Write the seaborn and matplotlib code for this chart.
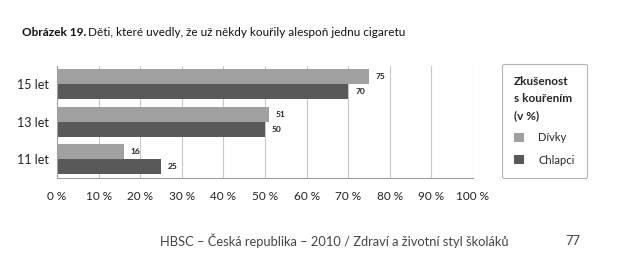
import matplotlib
matplotlib.use("Agg")
import matplotlib.pyplot as plt
import seaborn as sns
import pandas as pd

categories = ["15 let", "13 let", "11 let"]
divky = [75, 51, 16]
chlapci = [70, 50, 25]
series_names = ["Dívky", "Chlapci"]
colors = ["#a0a0a0", "#595959"]
xticks = [0, 10, 20, 30, 40, 50, 60, 70, 80, 90, 100]
xtick_labels = [f"{v} %" for v in xticks]

sns.set_style("white")
plt.rcParams["font.family"] = ["Lato", "DejaVu Sans"]

df = pd.DataFrame({
    "kat": categories * 2,
    "val": divky + chlapci,
    "pohlavi": [series_names[0]] * 3 + [series_names[1]] * 3,
})

fig = plt.figure(figsize=(6.2, 2.72), dpi=100)
ax = fig.add_axes([57/620, 1-178/272, (473-57)/620, (178-65.5)/272])

sns.barplot(data=df, y="kat", x="val", hue="pohlavi", order=categories,
            hue_order=series_names, palette=colors, orient="h", width=0.8,
            saturation=1, ax=ax, legend=False, linewidth=0)

ax.set_xlim(0, 100)
ax.set_xticks(xticks)
ax.set_xticklabels(xtick_labels, fontsize=8.5, color="#222222")
ax.tick_params(axis="y", labelsize=9, length=0, pad=6, labelcolor="#222222")
ax.tick_params(axis="x", length=0, pad=9)
ax.set_xlabel("")
ax.set_ylabel("")
ax.grid(axis="x", color="#c8c8c8", linewidth=0.8)
ax.set_axisbelow(True)
for s in ["top", "right"]:
    ax.spines[s].set_visible(False)
for s in ["left", "bottom"]:
    ax.spines[s].set_color("#a0a0a0")
    ax.spines[s].set_linewidth(0.8)

for cont in ax.containers:
    for bar in cont:
        w = bar.get_width()
        ax.annotate(f"{w:.0f}", (w, bar.get_y() + bar.get_height()/2),
                    xytext=(5, 0), textcoords="offset points",
                    ha="left", va="center", fontsize=6, fontweight="bold",
                    color="#222222")

from matplotlib.patches import Patch
handles = [Patch(facecolor=c, edgecolor="none") for c in colors]
leg = fig.legend(handles, series_names, title="Zkušenost\ns kouřením\n(v %)",
                 loc="upper left", bbox_to_anchor=(496/620, 1-58/272),
                 frameon=True, fancybox=True, fontsize=8,
                 title_fontsize=8.5, alignment="left",
                 handlelength=0.9, handleheight=0.9, handletextpad=1.3,
                 labelspacing=1.0, borderpad=1.1, edgecolor="#a0a0a0")
leg.get_frame().set_linewidth(0.8)
leg.get_title().set_fontweight("bold")
leg.get_title().set_linespacing(1.7)

fig.text(22/620, 1-32/272, "Obrázek 19.", fontsize=8.5, fontweight="bold",
         va="center", ha="left", color="#111111")
fig.text(85/620, 1-32/272, " Děti, které uvedly, že už někdy kouřily alespoň jednu cigaretu",
         fontsize=8.5, va="center", ha="left", color="#111111")
fig.text(160/620, 1-241/272, "HBSC – Česká republika – 2010 / Zdraví a životní styl školáků",
         fontsize=9.3, va="center", ha="left", color="#444444")
fig.text(565/620, 1-241/272, "77", fontsize=9.3, va="center", ha="left", color="#444444")

fig.savefig("out.png", dpi=100)
